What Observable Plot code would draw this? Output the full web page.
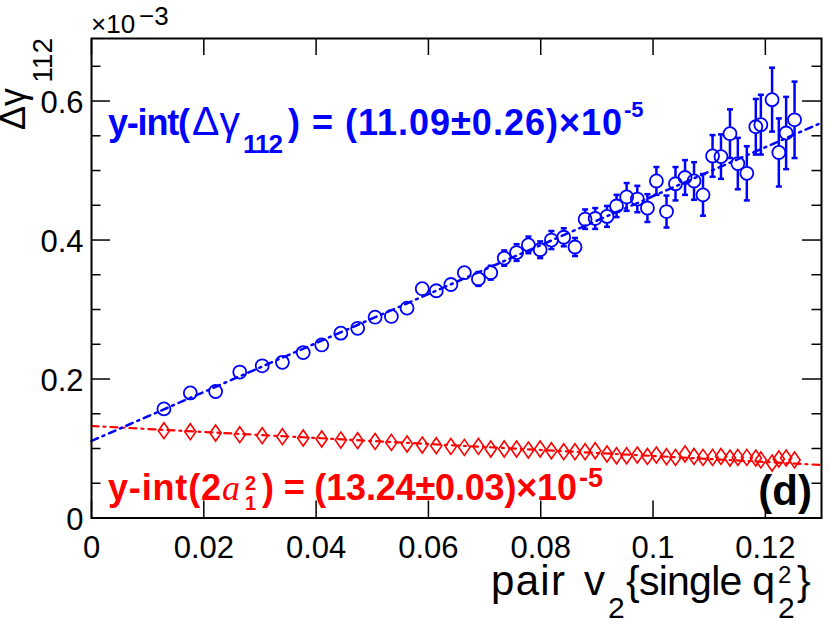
<!DOCTYPE html>
<html><head><meta charset="utf-8">
<script src="https://cdn.jsdelivr.net/npm/d3@7"></script>
<script src="https://cdn.jsdelivr.net/npm/@observablehq/plot@0.6"></script>
<style>body{margin:0;background:#fff;} svg{display:block}</style>
</head><body><div id="chart"></div>
<script>
// ---- data (Δγ112 and 2a1^2 in units of 1e-3) ----
const pairV2 = [0.0129,0.0176,0.0221,0.0264,0.0304,0.0340,0.0377,0.0410,0.0444,0.0474,0.0505,0.0534,0.0562,0.0589,0.0614,0.0640,0.0664,0.0689,0.0711,0.0735,0.0757,0.0778,0.0799,0.0819,0.0841,0.0861,0.0879,0.0897,0.0918,0.0935,0.0953,0.0972,0.0990,0.1006,0.1024,0.1040,0.1057,0.1073,0.1089,0.1106,0.1121,0.1137,0.1151,0.1167,0.1183,0.1192,0.1212,0.1224,0.1237,0.1252];
const dGamma = [0.157,0.180,0.182,0.210,0.219,0.224,0.238,0.249,0.266,0.273,0.289,0.290,0.302,0.330,0.327,0.336,0.353,0.344,0.353,0.374,0.382,0.393,0.386,0.400,0.404,0.390,0.430,0.431,0.434,0.449,0.462,0.459,0.446,0.485,0.441,0.481,0.490,0.485,0.465,0.521,0.520,0.553,0.510,0.496,0.563,0.566,0.602,0.526,0.554,0.573];
const dGammaErr = [0.003,0.003,0.003,0.004,0.004,0.004,0.005,0.005,0.005,0.006,0.006,0.006,0.007,0.008,0.008,0.009,0.009,0.010,0.010,0.011,0.012,0.012,0.012,0.013,0.013,0.013,0.014,0.015,0.015,0.016,0.020,0.019,0.020,0.020,0.023,0.024,0.025,0.027,0.030,0.030,0.032,0.035,0.037,0.039,0.040,0.043,0.046,0.049,0.052,0.055];
const twoA1sq = [0.1256,0.1242,0.1223,0.1199,0.1184,0.1170,0.1151,0.1137,0.1122,0.1112,0.1102,0.1088,0.1065,0.1050,0.1040,0.1030,0.1016,0.1030,0.0993,0.0993,0.0993,0.0978,0.0993,0.0968,0.0954,0.0954,0.0954,0.0968,0.0921,0.0896,0.0896,0.0906,0.0886,0.0906,0.0882,0.0872,0.0921,0.0886,0.0872,0.0872,0.0886,0.0863,0.0872,0.0872,0.0863,0.0835,0.0791,0.0849,0.0863,0.0835];
const fitX = [0, 0.13];
const fitDGamma = [0.1109, 0.5688];
const fitTwoA1sq = [0.1324, 0.0763];
const xTicks = [0, 0.02, 0.04, 0.06, 0.08, 0.1, 0.12];
const yTicks = [0, 0.2, 0.4, 0.6];
const yMinorTicks = [0.05, 0.1, 0.15, 0.25, 0.3, 0.35, 0.45, 0.5, 0.55, 0.65];
const xDomain = [0, 0.13];
const yDomain = [0, 0.69];

// ---- layout ----
const W = 830, H = 624, mL = 91, mR = 9, mT = 38, mB = 106.5;
const fw = W - mL - mR, fh = H - mT - mB;
const BLUE = "#0000ff", RED = "#ff0000";
const markR = 6.5;
const rData = markR * (yDomain[1] - yDomain[0]) / fh;

const blue = pairV2.map((x, i) => ({x, y: dGamma[i], e: dGammaErr[i]}));
const red = pairV2.map((x, i) => ({x, y: twoA1sq[i]}));
const blueFit = fitX.map((x, i) => ({x, y: fitDGamma[i]}));
const redFit = fitX.map((x, i) => ({x, y: fitTwoA1sq[i]}));
const withBars = blue.filter(d => d.e > rData);

const tallDiamond = {draw(ctx, size) { const r = Math.sqrt(size / Math.PI); ctx.moveTo(0, -r); ctx.lineTo(r * 0.7, 0); ctx.lineTo(0, r); ctx.lineTo(-r * 0.7, 0); ctx.closePath(); }};
const capSym = {draw(ctx, size) { const r = Math.sqrt(size / Math.PI); ctx.moveTo(-r, 0); ctx.lineTo(r, 0); }};

const FONT = "'Liberation Sans', Arial, Helvetica, sans-serif";
const SERIF = "'Liberation Serif', 'Times New Roman', serif";
const plot = Plot.plot({
  width: W, height: H, marginLeft: mL, marginRight: mR, marginTop: mT, marginBottom: mB,
  style: {fontFamily: FONT, color: "#000", background: "#fff", overflow: "visible"},
  x: {domain: xDomain},
  y: {domain: yDomain},
  marks: [
    Plot.axisX({ticks: xTicks, tickSize: 0, tickPadding: 18, fontSize: 31, tickFormat: d => String(d), label: null}),
    Plot.axisY({ticks: yTicks, tickSize: 0, tickPadding: 8, fontSize: 31, tickFormat: d => String(d), label: null, dy: 2}),
    // inward ticks
    Plot.ruleX(xTicks, {x: d => d, insetTop: fh - 17, stroke: "#000", strokeWidth: 1.5}),
    Plot.ruleX(xTicks, {x: d => d, insetBottom: fh - 17, stroke: "#000", strokeWidth: 1.5}),
    Plot.ruleY(yTicks, {y: d => d, insetRight: fw - 19, stroke: "#000", strokeWidth: 1.5}),
    Plot.ruleY(yTicks, {y: d => d, insetLeft: fw - 19, stroke: "#000", strokeWidth: 1.5}),
    Plot.ruleY(yMinorTicks, {y: d => d, insetRight: fw - 9.5, stroke: "#000", strokeWidth: 1.5}),
    Plot.ruleY(yMinorTicks, {y: d => d, insetLeft: fw - 9.5, stroke: "#000", strokeWidth: 1.5}),
    // fits
    Plot.line(redFit, {x: "x", y: "y", stroke: RED, strokeWidth: 2.2, strokeDasharray: "7,5,2,5"}),
    Plot.line(blueFit, {x: "x", y: "y", stroke: BLUE, strokeWidth: 2.5, strokeDasharray: "7,5,2,5"}),
    // red diamonds
    Plot.dot(red, {x: "x", y: "y", r: 8, symbol: tallDiamond, stroke: RED, strokeWidth: 1.6, fill: "none"}),
    // blue error bars (outside marker)
    Plot.ruleX(withBars, {x: "x", y1: d => d.y + rData, y2: d => d.y + d.e, stroke: BLUE, strokeWidth: 2.5}),
    Plot.ruleX(withBars, {x: "x", y1: d => d.y - rData, y2: d => d.y - d.e, stroke: BLUE, strokeWidth: 2.5}),
    Plot.dot(withBars, {x: "x", y: d => d.y + d.e, r: 3, symbol: capSym, stroke: BLUE, strokeWidth: 2.5}),
    Plot.dot(withBars, {x: "x", y: d => d.y - d.e, r: 3, symbol: capSym, stroke: BLUE, strokeWidth: 2.5}),
    Plot.dot(blue, {x: "x", y: "y", r: markR, stroke: BLUE, strokeWidth: 1.8, fill: "none"}),
    Plot.frame({stroke: "#000", strokeWidth: 2})
  ]
});
document.getElementById("chart").appendChild(plot);

// ---- text pieces (TLatex-like layout) ----
const svg = d3.select(plot);
function piece(parent, x, y, str, o = {}) {
  const t = parent.append("text").attr("x", x).attr("y", y).text(str)
    .attr("font-family", o.family || FONT).attr("text-anchor", o.anchor || "start")
    .attr("fill", o.fill || "#000").attr("font-size", o.size || 36)
    .attr("font-weight", o.weight || "normal");
  if (o.style) t.attr("font-style", o.style);
  if (o.len) t.attr("textLength", o.len).attr("lengthAdjust", "spacing");
  return t;
}
// y-axis exponent
piece(svg, 91, 33, "×10", {size: 26});
piece(svg, 139, 25, "−3", {size: 26});
// y-axis title (rotated: reads bottom to top, ends at frame top)
const yt = svg.append("g").attr("transform", "translate(25,38) rotate(-90)");
piece(yt, 0, 27, "112", {size: 28, anchor: "end"});
piece(yt, -50, 0, "Δγ", {size: 36, anchor: "end"});
// x-axis title
piece(svg, 491, 595, "pair", {size: 42, len: 74});
piece(svg, 584, 595, "v", {size: 42});
piece(svg, 608, 618, "2", {size: 30});
piece(svg, 626, 595, "{single q", {size: 41, len: 149});
piece(svg, 778, 583, "2", {size: 24});
piece(svg, 778, 618, "2", {size: 30});
piece(svg, 797, 595, "}", {size: 41});
// blue fit result
const bo = {fill: BLUE, weight: "bold"};
piece(svg, 108, 135, "y-int(", {...bo, size: 36, len: 82});
piece(svg, 192, 135, "Δγ", {fill: BLUE, size: 41});
piece(svg, 243, 153, "112", {...bo, size: 26, len: 40});
piece(svg, 288, 135, ") = (11.09±0.26)×10", {...bo, size: 36, len: 334});
piece(svg, 624, 117, "-5", {...bo, size: 22});
// red fit result
const ro = {fill: RED, weight: "bold"};
piece(svg, 108, 500, "y-int(2", {...ro, size: 36, len: 113});
piece(svg, 222, 500, "a", {fill: RED, size: 36, family: SERIF, style: "italic"});
piece(svg, 245, 490, "2", {...ro, size: 20});
piece(svg, 245, 510, "1", {...ro, size: 20});
piece(svg, 262, 500, ") = (13.24±0.03)×10", {...ro, size: 36, len: 315});
piece(svg, 579, 487, "-5", {...ro, size: 27});
// panel label
piece(svg, 812, 505, "(d)", {weight: "bold", size: 42, anchor: "end"});
</script>
</body></html>
